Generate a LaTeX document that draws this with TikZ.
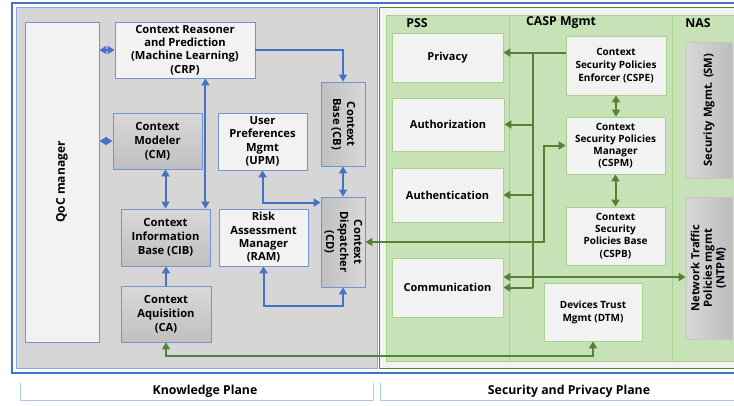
\documentclass[tikz,border=0pt]{standalone}
\usepackage{fontspec}
\usepackage{graphicx}
\setmainfont{Open Sans}
\usetikzlibrary{arrows.meta}
\definecolor{conblue}{HTML}{4472C4}
\definecolor{nodeblue}{HTML}{7294D2}
\definecolor{congreen}{HTML}{538135}
\definecolor{nodegreen}{HTML}{A9D18E}
\definecolor{panelgreen}{HTML}{C8E2B8}
\definecolor{whitefill}{HTML}{F2F2F2}
\definecolor{panelgray}{HTML}{D6D6D6}
\definecolor{lightblue}{HTML}{8FAADC}
\definecolor{labelblue}{HTML}{A9C8EA}
\newcommand\rtxt[2]{\rotatebox{#1}{\begin{tabular}{@{}c@{}}#2\end{tabular}}}
\begin{document}
\begin{tikzpicture}[x=1pt,y=-1pt,
  nfont/.style={font=\fontsize{11.2}{14}\selectfont\bfseries},
  sfont/.style={font=\fontsize{10}{13}\selectfont\bfseries},
  pfont/.style={font=\fontsize{11}{13}\selectfont\bfseries},
  bnode/.style={draw=nodeblue, fill=whitefill, line width=0.8pt, align=center, inner sep=0pt, nfont},
  gnode/.style={draw=nodegreen, fill=whitefill, line width=0.8pt, align=center, inner sep=0pt, sfont},
  graytb/.style={top color=gray!30, bottom color=gray!50},
  graylr/.style={left color=gray!50, right color=gray!30},
  grayrl/.style={left color=gray!30, right color=gray!52},
  tip/.tip={Triangle[length=7pt,width=8pt]},
  barr/.style={draw=conblue, line width=2pt, arrows={-tip}},
  bdbl/.style={draw=conblue, line width=2pt, arrows={tip-tip}},
  garr/.style={draw=congreen, line width=2pt, arrows={-tip}},
  gline/.style={draw=congreen, line width=2pt},
  gdbl/.style={draw=congreen, line width=2pt, arrows={tip-tip}},
  title/.style={font=\fontsize{12.3}{14}\selectfont\bfseries, inner sep=0pt},
]
\useasboundingbox (0,0) rectangle (734,405);
% panels
\draw[conblue, line width=2.5pt] (12,3) rectangle (760,373);
\draw[lightblue, fill=panelgray, line width=0.8pt] (16,7) rectangle (377,368);
\draw[congreen, fill=whitefill, line width=1pt] (379,7) rectangle (760,368);
\draw[nodegreen, fill=panelgreen, line width=0.8pt] (386,15) rectangle (760,361);
\draw[nodegreen, line width=0.8pt] (509,15) -- (509,361);
\draw[nodegreen, line width=0.8pt] (672,15) -- (672,361);
\node[title] (tpss) at (417,23) {PSS};
\node[title] (tcasp) at (561,23) {CASP Mgmt};
\node[title] (tnas) at (698,23) {NAS};
% bottom labels
\draw[labelblue, line width=1pt] (20,383) -- (20,400) -- (373,400) -- (373,383);
\draw[labelblue, line width=1pt] (380,383) -- (380,400) -- (760,400);
\node[title] (kp) at (205,391) {Knowledge Plane};
\node[title] (spp) at (569,391) {Security and Privacy Plane};
% knowledge nodes
\node[bnode, font=\fontsize{12}{14}\selectfont\bfseries, minimum width=74pt, minimum height=320pt] (qoc) at (62,182) {\rtxt{90}{QoC manager}};
\node[bnode, minimum width=140pt, minimum height=56pt] (crp) at (185,50) {Context Reasoner\\[-0.6pt]and Prediction\\[-0.6pt](Machine Learning)\\[-0.6pt](CRP)};
\node[bnode, graytb, minimum width=89pt, minimum height=56pt] (cm) at (157.5,141) {Context\\Modeler\\(CM)};
\node[bnode, minimum width=89pt, minimum height=57pt] (upm) at (262.5,141.5) {User\\[-0.6pt]Preferences\\[-0.6pt]Mgmt\\[-0.6pt](UPM)};
\node[bnode, graylr, minimum width=44pt, minimum height=84pt] (cb) at (343,124) {\rtxt{-90}{Context\\Base (CB)}};
\node[bnode, graytb, minimum width=89pt, minimum height=57pt] (cib) at (165.5,237.5) {Context\\Information\\Base (CIB)};
\node[bnode, minimum width=89pt, minimum height=57pt] (ram) at (263.5,237.5) {Risk\\[-0.6pt]Assessment\\[-0.6pt]Manager\\[-0.6pt](RAM)};
\node[bnode, graylr, minimum width=44pt, minimum height=90pt] (cd) at (343,242) {\rtxt{-90}{Context\\Dispatcher\\(CD)}};
\node[bnode, graytb, minimum width=90pt, minimum height=56pt] (ca) at (166,314) {Context\\Aquisition\\(CA)};
% security nodes
\node[gnode, pfont, minimum width=111pt, minimum height=49pt] (priv) at (447.5,57.5) {Privacy};
\node[gnode, pfont, minimum width=112pt, minimum height=53pt] (authz) at (448,124.5) {Authorization};
\node[gnode, pfont, minimum width=111pt, minimum height=54pt] (authn) at (447.5,195) {Authentication};
\node[gnode, pfont, minimum width=111pt, minimum height=59pt] (comm) at (447.5,287.5) {Communication};
\node[gnode, minimum width=100pt, minimum height=59pt] (cspe) at (616,65.5) {Context\\Security Policies\\Enforcer (CSPE)};
\node[gnode, minimum width=99pt, minimum height=57pt] (cspm) at (615.5,145.5) {Context\\[-0.8pt]Security Policies\\[-0.8pt]Manager\\[-0.8pt](CSPM)};
\node[gnode, minimum width=99pt, minimum height=58pt] (cspb) at (615.5,236) {Context\\[-0.8pt]Security\\[-0.8pt]Policies Base\\[-0.8pt](CSPB)};
\node[gnode, minimum width=98pt, minimum height=58pt] (dtm) at (593,312) {Devices Trust\\Mgmt (DTM)};
\node[gnode, nfont, draw=gray!45, grayrl, minimum width=46pt, minimum height=136pt] (sm) at (709,110) {\rtxt{90}{Security Mgmt. (SM)}};
\node[gnode, nfont, draw=gray!45, grayrl, minimum width=46pt, minimum height=142pt] (ntpm) at (709,268) {\rtxt{90}{Network Traffic\\[-1.5pt]Policies mgmt\\[-1.5pt](NTPM)}};
% blue connectors
\draw[bdbl] (crp.west) -- (qoc.east |- crp.west);
\draw[bdbl] (cm.west) -- (qoc.east |- cm.west);
\draw[barr] (crp.east) -| (cb.north);
\draw[bdbl] (cb.south) -- (cd.north);
\draw[bdbl] (cib.north) -- (cib.north |- cm.south);
\coordinate (cibr) at ([xshift=-5pt]cib.north east);
\draw[bdbl] (cibr) -- (cibr |- crp.south);
\coordinate (cdu) at ([yshift=-6pt]cd.north west);
\draw[bdbl] (upm.south) |- (cdu);
\draw[bdbl] (ram.south) -- ++(0,40) -| (cd.south);
\draw[barr] (ca.north) -- (ca.north |- cib.south);
% green connectors
\coordinate (bx) at (533,0);
\coordinate (cx) at (544,0);
\coordinate (ep) at ([yshift=-17pt]cspe.north west);
\draw[garr] (ep) -- (ep -| priv.east);
\draw[gline] (ep -| bx) -- (bx |- comm.east);
\draw[garr] (bx |- authz.east) -- (authz.east);
\draw[garr] (bx |- authn.east) -- (authn.east);
\draw[garr] (bx |- comm.east) -- (comm.east);
\draw[gdbl] (cspm.west) -- (cx |- cspm.west) -- (cx |- cd.east) -- (cd.east);
\draw[gdbl] (cspe.south) -- (cspe.south |- cspm.north);
\draw[gdbl] (cspm.south) -- (cspb.north);
\coordinate (cmu) at ([yshift=10.5pt]comm.east);
\draw[gdbl] (cmu) -- (cmu -| ntpm.west);
\draw[gdbl] (ca.south) -- ++(0,14) -| (dtm.south);
\end{tikzpicture}
\end{document}
